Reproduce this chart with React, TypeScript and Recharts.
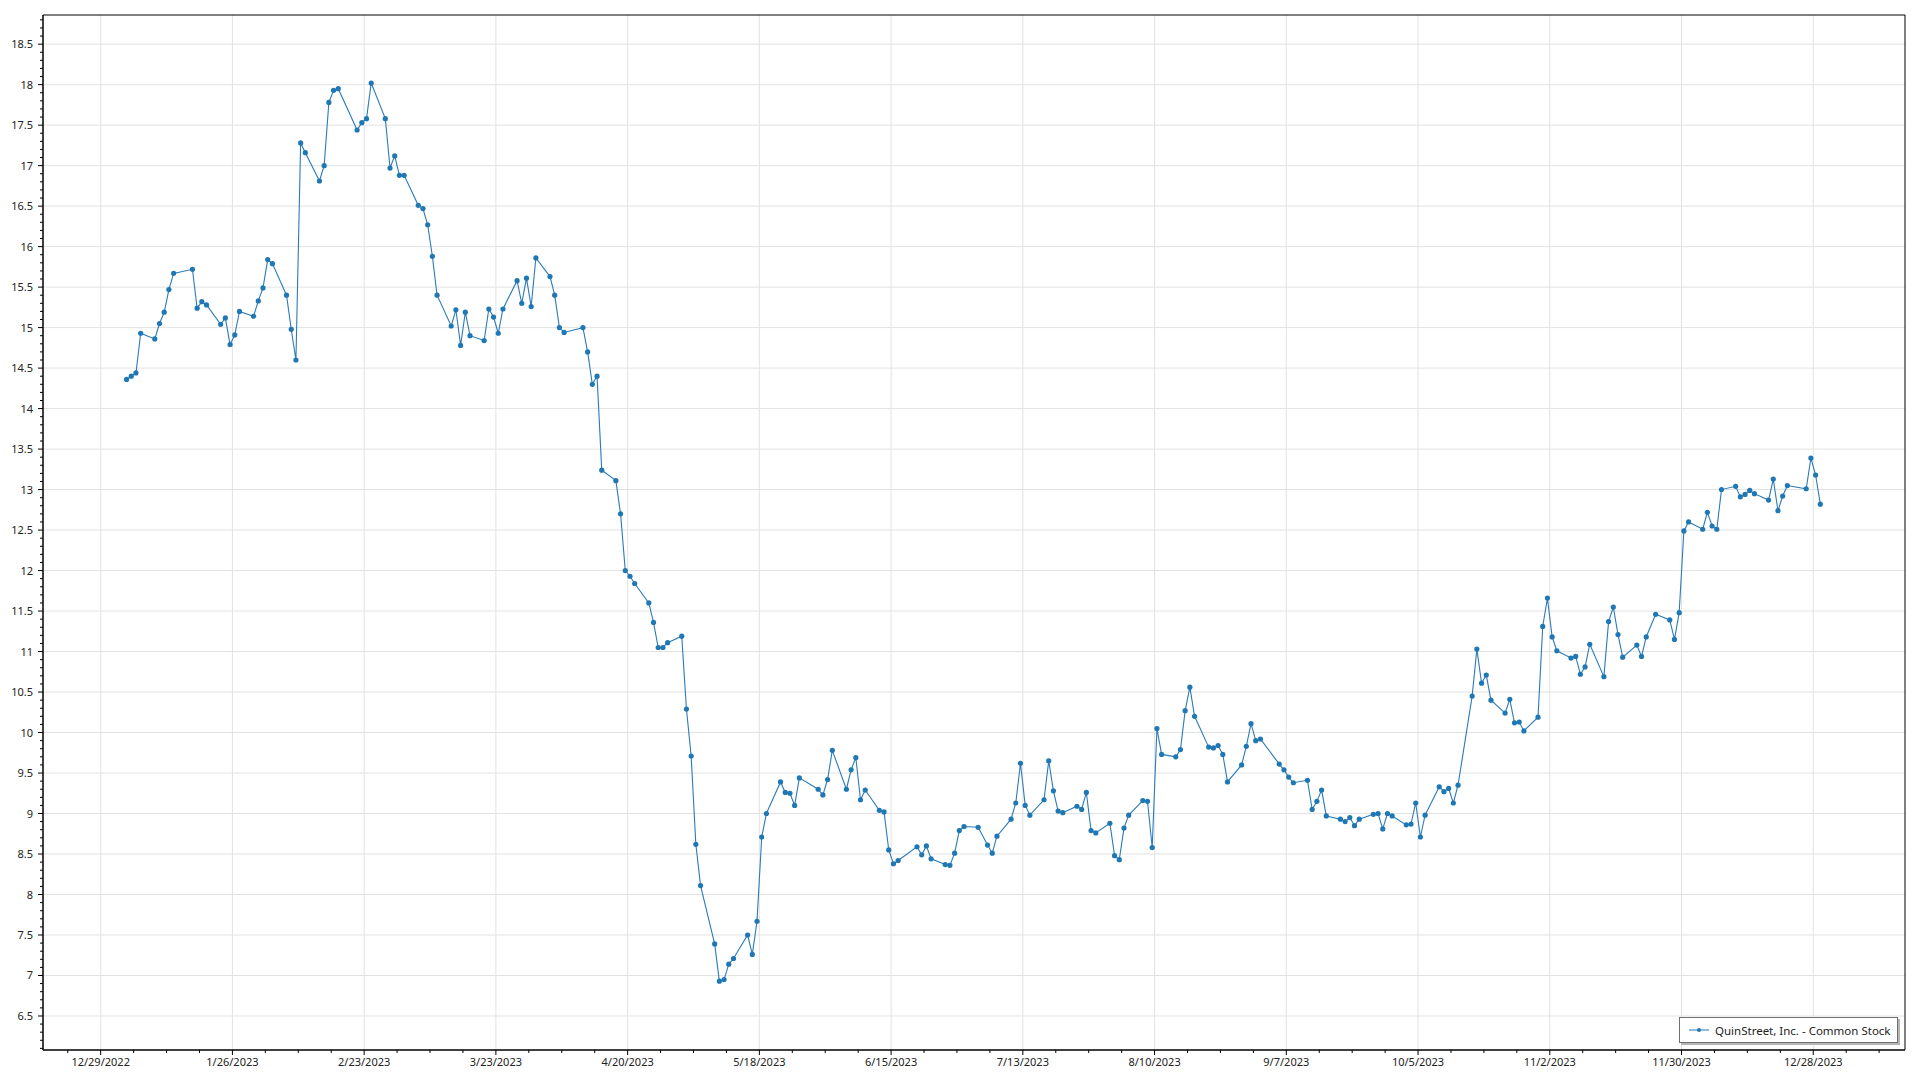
import { LineChart, Line, XAxis, YAxis, CartesianGrid, ReferenceArea } from "recharts";

// closing prices per month, 2023 trading days in order
const jan = [14.36, 14.4, 14.44, 14.93, 14.86, 15.05, 15.19, 15.47, 15.67, 15.72, 15.24, 15.32, 15.28, 15.04, 15.12, 14.79, 14.91, 15.2, 15.14, 15.33];
const feb = [15.49, 15.84, 15.79, 15.4, 14.98, 14.6, 17.28, 17.16, 16.81, 17.0, 17.78, 17.93, 17.95, 17.44, 17.53, 17.58, 18.02, 17.58, 16.97];
const mar = [17.12, 16.88, 16.88, 16.51, 16.47, 16.27, 15.88, 15.4, 15.02, 15.22, 14.78, 15.19, 14.9, 14.84, 15.23, 15.13, 14.93, 15.23, 15.58, 15.3, 15.61, 15.26, 15.86];
const apr = [15.63, 15.4, 15.0, 14.94, 15.0, 14.7, 14.3, 14.4, 13.24, 13.11, 12.7, 12.0, 11.93, 11.84, 11.6, 11.36, 11.05, 11.05, 11.11];
const may = [11.19, 10.29, 9.71, 8.62, 8.11, 7.39, 6.93, 6.95, 7.14, 7.21, 7.5, 7.26, 7.67, 8.71, 9.0, 9.39, 9.26, 9.25, 9.1, 9.44, 9.3, 9.23];
const jun = [9.42, 9.78, 9.3, 9.54, 9.69, 9.17, 9.29, 9.04, 9.02, 8.55, 8.38, 8.42, 8.59, 8.49, 8.6, 8.44, 8.37, 8.36, 8.51, 8.79, 8.84];
const jul = [8.83, 8.61, 8.51, 8.72, 8.93, 9.13, 9.62, 9.1, 8.98, 9.17, 9.65, 9.28, 9.03, 9.01, 9.09, 9.05, 9.26, 8.79, 8.76, 8.88];
const aug = [8.48, 8.43, 8.82, 8.98, 9.16, 9.15, 8.58, 10.05, 9.73, 9.7, 9.79, 10.27, 10.56, 10.2, 9.82, 9.81, 9.84, 9.73, 9.39, 9.6, 9.83, 10.11, 9.9];
const sep = [9.92, 9.61, 9.54, 9.45, 9.38, 9.41, 9.05, 9.15, 9.29, 8.97, 8.93, 8.9, 8.95, 8.85, 8.93, 8.99, 9.0, 8.81, 9.0, 8.97];
const oct = [8.86, 8.87, 9.13, 8.71, 8.98, 9.33, 9.27, 9.31, 9.13, 9.35, 10.45, 11.03, 10.61, 10.71, 10.4, 10.24, 10.41, 10.12, 10.13, 10.02, 10.19, 11.31];
const nov = [11.66, 11.18, 11.01, 10.92, 10.94, 10.72, 10.81, 11.09, 10.69, 11.37, 11.55, 11.21, 10.93, 11.08, 10.94, 11.18, 11.46, 11.39, 11.15, 11.48, 12.49];
const dec = [12.6, 12.51, 12.72, 12.55, 12.51, 13.0, 13.04, 12.91, 12.94, 12.99, 12.95, 12.87, 13.13, 12.74, 12.92, 13.05, 13.01, 13.39, 13.18, 12.82];

const holidays = ["2023-01-02", "2023-01-16", "2023-02-20", "2023-04-07", "2023-05-29", "2023-06-19", "2023-07-04", "2023-09-04", "2023-11-23", "2023-12-25"];

const SERIES_NAME = "QuinStreet, Inc. - Common Stock";

const DAY = 86400000;
const ORIGIN = Date.UTC(2022, 11, 29);

const X_MIN = -12.26;
const X_MAX = 383.5;
const Y_MIN = 6.08;
const Y_MAX = 18.86;

function tradingDays() {
  const out: number[] = [];
  for (let t = Date.UTC(2023, 0, 1); t <= Date.UTC(2023, 11, 31); t += DAY) {
    const d = new Date(t);
    const wd = d.getUTCDay();
    if (wd === 0 || wd === 6) continue;
    if (holidays.includes(d.toISOString().slice(0, 10))) continue;
    out.push((t - ORIGIN) / DAY);
  }
  return out;
}

const closes = [...jan, ...feb, ...mar, ...apr, ...may, ...jun, ...jul, ...aug, ...sep, ...oct, ...nov, ...dec];
const days = tradingDays();
const data = closes.map((close, i) => ({ t: days[i] + 0.5, close }));

const xMajor: number[] = [];
for (let d = 0; d <= 364; d += 28) xMajor.push(d);
const xTicks: number[] = [];
for (let d = -7; d <= X_MAX; d += 7) xTicks.push(d);

const yMajor: number[] = [];
const yTicks: number[] = [];
for (let i = 61; i <= 188; i++) {
  yTicks.push(i / 10);
  if (i % 5 === 0) yMajor.push(i / 10);
}

const FONT = "'Noto Sans', sans-serif";

function fmtDate(d: number) {
  const dt = new Date(ORIGIN + d * DAY);
  return `${dt.getUTCMonth() + 1}/${dt.getUTCDate()}/${dt.getUTCFullYear()}`;
}

const XTick = (props: any) => {
  const { x, y, payload } = props;
  const major = payload.value % 28 === 0;
  return (
    <g>
      <line x1={x} y1={y} x2={x} y2={y + (major ? 5 : 3)} stroke="#000" />
      {major && (
        <text x={x} y={y + 16} textAnchor="middle" fontSize={11} fontFamily={FONT} fill="#222">
          {fmtDate(payload.value)}
        </text>
      )}
    </g>
  );
};

const YTick = (props: any) => {
  const { x, y, payload } = props;
  const major = Math.round(payload.value * 10) % 5 === 0;
  return (
    <g>
      <line x1={x} y1={y} x2={x - (major ? 5 : 3)} y2={y} stroke="#000" />
      {major && (
        <text x={x - 10} y={y} dy={4} textAnchor="end" fontSize={11} fontFamily={FONT} fill="#222">
          {String(payload.value)}
        </text>
      )}
    </g>
  );
};

export default function App() {
  return (
    <div style={{ position: "absolute", left: 0, top: 0, width: 1920, height: 1080, background: "#fff" }}>
      <LineChart width={1920} height={1080} data={data} margin={{ top: 15, right: 15, left: 0, bottom: 0 }}>
        <CartesianGrid stroke="#e2e2e2" horizontalValues={yMajor} verticalValues={xMajor} />
        <XAxis
          dataKey="t"
          type="number"
          domain={[X_MIN, X_MAX]}
          allowDataOverflow
          ticks={xTicks}
          interval={0}
          tick={<XTick />}
          tickLine={false}
          tickSize={0}
          tickMargin={0}
          axisLine={{ stroke: "#000" }}
          height={30}
        />
        <YAxis
          type="number"
          domain={[Y_MIN, Y_MAX]}
          allowDataOverflow
          ticks={yTicks}
          interval={0}
          tick={<YTick />}
          tickLine={false}
          tickSize={0}
          tickMargin={0}
          axisLine={{ stroke: "#000" }}
          width={43}
        />
        <ReferenceArea x1={X_MIN} x2={X_MAX} y1={Y_MIN} y2={Y_MAX} fill="none" fillOpacity={0} stroke="#000" strokeWidth={1} />
        <Line
          type="linear"
          dataKey="close"
          name={SERIES_NAME}
          stroke="#2b7bba"
          strokeWidth={1.1}
          dot={{ r: 2.6, fill: "#1f77b4", stroke: "#1f77b4", strokeWidth: 0 }}
          isAnimationActive={false}
        />
      </LineChart>
      <div
        style={{
          position: "absolute",
          left: 1679,
          top: 1017,
          width: 219,
          height: 26,
          boxSizing: "border-box",
          border: "1px solid #707070",
          background: "#fff",
          boxShadow: "2px 2px 0 #b5b5b5",
          display: "flex",
          alignItems: "center",
          fontFamily: FONT,
          fontSize: 11.5,
          color: "#222",
        }}
      >
        <svg width={20} height={10} style={{ marginLeft: 9, marginRight: 6 }}>
          <line x1={0} y1={5} x2={20} y2={5} stroke="#6fa3d0" strokeWidth={1.5} />
          <circle cx={10} cy={5} r={2} fill="#1f77b4" />
        </svg>
        <span style={{ whiteSpace: "nowrap" }}>{SERIES_NAME}</span>
      </div>
    </div>
  );
}
